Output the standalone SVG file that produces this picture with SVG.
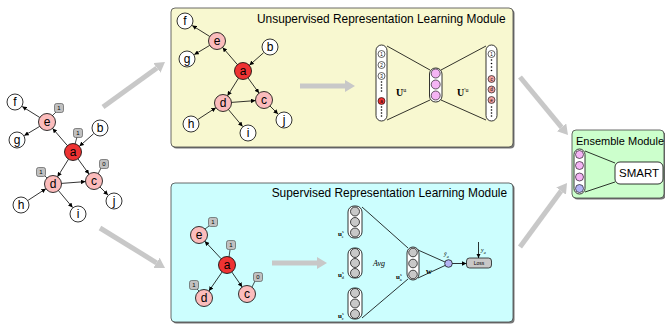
<svg xmlns="http://www.w3.org/2000/svg" width="665" height="326" viewBox="0 0 665 326">
<defs>
<marker id="ah" markerUnits="userSpaceOnUse" viewBox="0 0 6 6" refX="6" refY="3" markerWidth="4.5" markerHeight="4.5" orient="auto"><path d="M0,0 L6,3 L0,6 z" fill="#000"/></marker>
<marker id="big" markerUnits="userSpaceOnUse" viewBox="0 0 10 12" refX="0" refY="6" markerWidth="10" markerHeight="12" orient="auto"><path d="M0,0 L10,6 L0,12 z" fill="#c8c8c8"/></marker>
</defs>
<style>
text{font-family:"Liberation Sans",Arial,sans-serif;fill:#000}
.n circle{stroke:#000;stroke-width:0.8}
.nw{fill:#fff}.np{fill:#fbbcbc}.nr{fill:#ee3333}
.nl{font-size:12px;text-anchor:middle}
.e{stroke:#000;stroke-width:0.8;fill:none;marker-end:url(#ah)}
.lb rect{fill:#c0c0c0;stroke:#444;stroke-width:0.6}
.lb text{font-size:6px;text-anchor:middle}
.lk{stroke:#000;stroke-width:0.7}
.ga{stroke:#c8c8c8;stroke-width:5;fill:none;marker-end:url(#big)}
.shadow{fill:#777}
.title{font-size:11.9px}
.col{fill:#fff;stroke:#000;stroke-width:0.8}
.ln{stroke:#000;stroke-width:0.8;fill:none}
.sc{stroke:#000;stroke-width:0.6}
.tiny{font-size:4.5px;text-anchor:middle}
.gc{fill:#c8c8c8;stroke:#000;stroke-width:0.7}
.ser{font-family:"Liberation Serif","Times New Roman",serif}
.dot{fill:#000}
</style>

<!-- module boxes -->
<g id="unsup-module">
<rect class="shadow" x="172.5" y="9.5" width="342" height="139" rx="4"/>
<rect x="171" y="8" width="342" height="139" rx="4" fill="#f8f8d0" stroke="#444" stroke-width="0.8"/>
<text class="title" x="257" y="23">Unsupervised Representation Learning Module</text>
</g>
<g id="sup-module">
<rect class="shadow" x="172.5" y="184.5" width="342" height="139" rx="4"/>
<rect x="171" y="183" width="342" height="139" rx="4" fill="#ccfefe" stroke="#444" stroke-width="0.8"/>
<text class="title" x="507" y="197" text-anchor="end">Supervised Representation Learning Module</text>
</g>
<g id="ensemble-module">
<rect class="shadow" x="573.5" y="131.5" width="92" height="68" rx="4"/>
<rect x="572" y="130" width="92" height="68" rx="4" fill="#ccffcc" stroke="#444" stroke-width="0.8"/>
<text x="576" y="145" font-size="11">Ensemble Module</text>
</g>

<!-- big gray flow arrows -->
<g id="flow-arrows">
<line class="ga" x1="103" y1="107" x2="156.9" y2="67.9"/>
<line class="ga" x1="100" y1="228" x2="156.5" y2="262.8"/>
<line class="ga" x1="520" y1="77" x2="561.6" y2="127.3"/>
<line class="ga" x1="520" y1="247" x2="561.1" y2="191.1"/>
<line class="ga" x1="300" y1="86" x2="345" y2="86"/>
<line class="ga" x1="272" y1="263" x2="317" y2="263"/>
</g>

<!-- left graph -->
<g id="left-graph">
<g id="L-edges">
<line class="e" x1="39.8" y1="117.5" x2="22.2" y2="106.5"/>
<line class="e" x1="39.7" y1="126.4" x2="24.3" y2="135.6"/>
<line class="e" x1="67.4" y1="145.6" x2="52.6" y2="128.4"/>
<line class="e" x1="93.6" y1="133.7" x2="79.4" y2="146.3"/>
<line class="e" x1="68.5" y1="159.2" x2="57.5" y2="176.8"/>
<line class="e" x1="78" y1="158.9" x2="89" y2="174.1"/>
<line class="e" x1="61.5" y1="183.4" x2="85.5" y2="181.6"/>
<line class="e" x1="28.1" y1="200.3" x2="45.9" y2="188.7"/>
<line class="e" x1="58.4" y1="190.5" x2="72.6" y2="207.5"/>
<line class="e" x1="100" y1="187" x2="108" y2="195"/>
<line class="lk" x1="52" y1="116" x2="56" y2="112"/>
<line class="lk" x1="75" y1="144" x2="77" y2="137"/>
<line class="lk" x1="98" y1="174" x2="101" y2="168"/>
<line class="lk" x1="47" y1="178" x2="44" y2="175"/>
</g>
<g id="L-f" class="n"><circle class="nw" cx="15" cy="102" r="8"/><text class="nl" x="15" y="106">f</text></g>
<g id="L-e" class="n"><circle class="np" cx="47" cy="122" r="8.5"/><text class="nl" x="47" y="126">e</text></g>
<g id="L-g" class="n"><circle class="nw" cx="17" cy="140" r="8"/><text class="nl" x="17" y="144">g</text></g>
<g id="L-b" class="n"><circle class="nw" cx="100" cy="128" r="8"/><text class="nl" x="100" y="132">b</text></g>
<g id="L-a" class="n"><circle class="nr" cx="73" cy="152" r="8.5"/><text class="nl" x="73" y="156">a</text></g>
<g id="L-c" class="n"><circle class="np" cx="94" cy="181" r="8.5"/><text class="nl" x="94" y="185">c</text></g>
<g id="L-d" class="n"><circle class="np" cx="53" cy="184" r="8.5"/><text class="nl" x="53" y="188">d</text></g>
<g id="L-h" class="n"><circle class="nw" cx="21" cy="205" r="8"/><text class="nl" x="21" y="209">h</text></g>
<g id="L-i" class="n"><circle class="nw" cx="78" cy="214" r="8"/><text class="nl" x="78" y="218">i</text></g>
<g id="L-j" class="n"><circle class="nw" cx="114" cy="201" r="8"/><text class="nl" x="114" y="205">j</text></g>
<g id="L-lab-e" class="lb"><rect x="54.5" y="103.5" width="9" height="9" rx="2"/><text x="59" y="110">1</text></g>
<g id="L-lab-a" class="lb"><rect x="73.5" y="128.5" width="9" height="9" rx="2"/><text x="78" y="135">1</text></g>
<g id="L-lab-c" class="lb"><rect x="99.5" y="159.5" width="9" height="9" rx="2"/><text x="104" y="166">0</text></g>
<g id="L-lab-d" class="lb"><rect x="36.5" y="167.5" width="9" height="9" rx="2"/><text x="41" y="174">1</text></g>
</g>

<!-- top module graph -->
<g id="top-graph" transform="translate(170,-81)">
<g id="T-edges">
<line class="e" x1="39.8" y1="117.5" x2="22.2" y2="106.5"/>
<line class="e" x1="39.7" y1="126.4" x2="24.3" y2="135.6"/>
<line class="e" x1="67.4" y1="145.6" x2="52.6" y2="128.4"/>
<line class="e" x1="93.6" y1="133.7" x2="79.4" y2="146.3"/>
<line class="e" x1="68.5" y1="159.2" x2="57.5" y2="176.8"/>
<line class="e" x1="78" y1="158.9" x2="89" y2="174.1"/>
<line class="e" x1="61.5" y1="183.4" x2="85.5" y2="181.6"/>
<line class="e" x1="28.1" y1="200.3" x2="45.9" y2="188.7"/>
<line class="e" x1="58.4" y1="190.5" x2="72.6" y2="207.5"/>
<line class="e" x1="100" y1="187" x2="108" y2="195"/>
</g>
<g id="T-f" class="n"><circle class="nw" cx="15" cy="102" r="8"/><text class="nl" x="15" y="106">f</text></g>
<g id="T-e" class="n"><circle class="np" cx="47" cy="122" r="8.5"/><text class="nl" x="47" y="126">e</text></g>
<g id="T-g" class="n"><circle class="nw" cx="17" cy="140" r="8"/><text class="nl" x="17" y="144">g</text></g>
<g id="T-b" class="n"><circle class="nw" cx="100" cy="128" r="8"/><text class="nl" x="100" y="132">b</text></g>
<g id="T-a" class="n"><circle class="nr" cx="73" cy="152" r="8.5"/><text class="nl" x="73" y="156">a</text></g>
<g id="T-c" class="n"><circle class="np" cx="94" cy="181" r="8.5"/><text class="nl" x="94" y="185">c</text></g>
<g id="T-d" class="n"><circle class="np" cx="53" cy="184" r="8.5"/><text class="nl" x="53" y="188">d</text></g>
<g id="T-h" class="n"><circle class="nw" cx="21" cy="205" r="8"/><text class="nl" x="21" y="209">h</text></g>
<g id="T-i" class="n"><circle class="nw" cx="78" cy="214" r="8"/><text class="nl" x="78" y="218">i</text></g>
<g id="T-j" class="n"><circle class="nw" cx="114" cy="201" r="8"/><text class="nl" x="114" y="205">j</text></g>
</g>

<!-- autoencoder -->
<g id="autoencoder">
<line class="ln" x1="387" y1="46" x2="430" y2="70"/>
<line class="ln" x1="387" y1="120" x2="430" y2="100"/>
<line class="ln" x1="441" y1="70" x2="486" y2="46"/>
<line class="ln" x1="441" y1="100" x2="486" y2="120"/>
<g id="ae-input">
<rect class="col" x="376" y="45" width="11" height="76" rx="5.5"/>
<circle class="sc" cx="381.5" cy="54" r="3.5" fill="#fff"/><text class="tiny" x="381.5" y="55.6">1</text>
<circle class="sc" cx="381.5" cy="65" r="3.5" fill="#fff"/><text class="tiny" x="381.5" y="66.6">2</text>
<circle class="sc" cx="381.5" cy="76" r="3.5" fill="#fff"/><text class="tiny" x="381.5" y="77.6">3</text>
<circle class="dot" cx="381.5" cy="82" r="0.8"/><circle class="dot" cx="381.5" cy="85" r="0.8"/><circle class="dot" cx="381.5" cy="88" r="0.8"/><circle class="dot" cx="381.5" cy="91" r="0.8"/>
<circle class="sc" cx="381.5" cy="101" r="3.5" fill="#ee3333"/><text class="tiny" x="381.5" y="102.6">a</text>
<circle class="dot" cx="381.5" cy="107" r="0.8"/><circle class="dot" cx="381.5" cy="110" r="0.8"/><circle class="dot" cx="381.5" cy="113" r="0.8"/><circle class="dot" cx="381.5" cy="116" r="0.8"/>
</g>
<g id="ae-code">
<rect class="col" x="429.5" y="68" width="12.5" height="34" rx="6"/>
<circle class="sc" cx="435.7" cy="73.5" r="4.5" fill="#f4b4f4"/>
<circle class="sc" cx="435.7" cy="84.5" r="4.5" fill="#f4b4f4"/>
<circle class="sc" cx="435.7" cy="95.5" r="4.5" fill="#f4b4f4"/>
</g>
<g id="ae-output">
<rect class="col" x="486" y="45" width="11" height="76" rx="5.5"/>
<circle class="sc" cx="491.5" cy="54" r="3.5" fill="#fff"/><text class="tiny" x="491.5" y="55.6">1</text>
<circle class="dot" cx="491.5" cy="60" r="0.8"/><circle class="dot" cx="491.5" cy="63.5" r="0.8"/><circle class="dot" cx="491.5" cy="67" r="0.8"/><circle class="dot" cx="491.5" cy="70.5" r="0.8"/>
<circle class="sc" cx="491.5" cy="79" r="3.5" fill="#f0a0a0"/><text class="tiny" x="491.5" y="80.6">c</text>
<circle class="sc" cx="491.5" cy="89.5" r="3.5" fill="#f0a0a0"/><text class="tiny" x="491.5" y="91.1">d</text>
<circle class="sc" cx="491.5" cy="100" r="3.5" fill="#f0a0a0"/><text class="tiny" x="491.5" y="101.6">e</text>
<circle class="dot" cx="491.5" cy="107" r="0.8"/><circle class="dot" cx="491.5" cy="110" r="0.8"/><circle class="dot" cx="491.5" cy="113" r="0.8"/><circle class="dot" cx="491.5" cy="116" r="0.8"/>
</g>
<text class="ser" x="396" y="96" font-size="10" font-weight="bold">U<tspan font-size="6" font-weight="normal" dy="-4">u</tspan></text>
<text class="ser" x="457" y="96" font-size="10" font-weight="bold">U<tspan font-size="6" font-weight="normal" dy="-4">′u</tspan></text>
</g>

<!-- bottom module graph -->
<g id="bottom-graph">
<g id="B-edges">
<line class="e" x1="221.2" y1="258.8" x2="204.8" y2="241.2"/>
<line class="e" x1="222.1" y1="272" x2="208.9" y2="291"/>
<line class="e" x1="231.8" y1="272" x2="242.2" y2="287"/>
<line class="lk" x1="205" y1="229" x2="209" y2="226"/>
<line class="lk" x1="229" y1="257" x2="230" y2="250"/>
<line class="lk" x1="199" y1="291" x2="197" y2="289"/>
<line class="lk" x1="252" y1="287" x2="255" y2="281"/>
</g>
<g id="B-e" class="n"><circle class="np" cx="199" cy="235" r="8.5"/><text class="nl" x="199" y="239">e</text></g>
<g id="B-a" class="n"><circle class="nr" cx="227" cy="265" r="8.5"/><text class="nl" x="227" y="269">a</text></g>
<g id="B-d" class="n"><circle class="np" cx="204" cy="298" r="8.5"/><text class="nl" x="204" y="302">d</text></g>
<g id="B-c" class="n"><circle class="np" cx="247" cy="294" r="8.5"/><text class="nl" x="247" y="298">c</text></g>
<g id="B-lab-e" class="lb"><rect x="208.5" y="217.5" width="9" height="9" rx="2"/><text x="213" y="224">1</text></g>
<g id="B-lab-a" class="lb"><rect x="226.5" y="240.5" width="9" height="9" rx="2"/><text x="231" y="247">1</text></g>
<g id="B-lab-d" class="lb"><rect x="189.5" y="280.5" width="9" height="9" rx="2"/><text x="194" y="287">1</text></g>
<g id="B-lab-c" class="lb"><rect x="253.5" y="272.5" width="9" height="9" rx="2"/><text x="258" y="279">0</text></g>
</g>

<!-- supervised network -->
<g id="supervised-net">
<line class="ln" x1="362" y1="207" x2="408" y2="248"/>
<line class="ln" x1="362" y1="318" x2="408" y2="279"/>
<line class="ln" x1="418" y1="250" x2="445" y2="262"/>
<line class="ln" x1="418" y1="278" x2="445" y2="265.5"/>
<g id="u-e">
<rect class="col" x="348" y="206" width="14" height="32" rx="6"/>
<circle class="gc" cx="355" cy="211.5" r="4.5"/><circle class="gc" cx="355" cy="222" r="4.5"/><circle class="gc" cx="355" cy="232.5" r="4.5"/>
<text class="ser" x="338" y="236" font-size="7" font-weight="bold">u<tspan font-size="4.5" font-weight="normal" dy="-3">s</tspan><tspan font-size="4.5" font-weight="normal" dx="-2" dy="4.5">e</tspan></text>
</g>
<g id="u-d">
<rect class="col" x="348" y="248" width="14" height="30" rx="6"/>
<circle class="gc" cx="355" cy="253" r="4.5"/><circle class="gc" cx="355" cy="263" r="4.5"/><circle class="gc" cx="355" cy="273" r="4.5"/>
<text class="ser" x="338" y="277" font-size="7" font-weight="bold">u<tspan font-size="4.5" font-weight="normal" dy="-3">s</tspan><tspan font-size="4.5" font-weight="normal" dx="-2" dy="4.5">d</tspan></text>
</g>
<g id="u-c">
<rect class="col" x="348" y="288" width="14" height="31" rx="6"/>
<circle class="gc" cx="355" cy="293" r="4.5"/><circle class="gc" cx="355" cy="303.5" r="4.5"/><circle class="gc" cx="355" cy="314" r="4.5"/>
<text class="ser" x="338" y="318" font-size="7" font-weight="bold">u<tspan font-size="4.5" font-weight="normal" dy="-3">s</tspan><tspan font-size="4.5" font-weight="normal" dx="-2" dy="4.5">c</tspan></text>
</g>
<text class="ser" x="373" y="266" font-size="8" font-style="italic">Avg</text>
<g id="u-a">
<rect class="col" x="407" y="247" width="12" height="33" rx="6"/>
<circle class="gc" cx="413" cy="252.5" r="4.3"/><circle class="gc" cx="413" cy="263.5" r="4.3"/><circle class="gc" cx="413" cy="274.5" r="4.3"/>
<text class="ser" x="396" y="279" font-size="7" font-weight="bold">u<tspan font-size="4.5" font-weight="normal" dy="-3">s</tspan><tspan font-size="4.5" font-weight="normal" dx="-2" dy="4.5">a</tspan></text>
</g>
<text class="ser" x="426" y="274" font-size="8" font-weight="bold">w</text>
<g id="y-hat">
<circle cx="448.5" cy="263.5" r="3.8" fill="#b4b4f4" stroke="#000" stroke-width="0.7"/>
<text class="ser" x="444" y="256" font-size="6" font-style="italic">ŷ<tspan font-size="4" dy="1.5">a</tspan></text>
</g>
<line class="e" x1="452.3" y1="263.5" x2="466.5" y2="263.5"/>
<line class="e" x1="478.5" y1="242" x2="478.5" y2="258"/>
<text class="ser" x="481" y="252" font-size="6" font-style="italic">y<tspan font-size="4" dy="1.5">a</tspan></text>
<g id="loss">
<rect x="466.5" y="258" width="25" height="10" rx="3" fill="#c8c8c8" stroke="#000" stroke-width="0.7"/>
<text x="479" y="265" font-size="5" text-anchor="middle">Loss</text>
</g>
</g>

<!-- ensemble contents -->
<g id="ensemble-net">
<line class="ln" x1="585" y1="151" x2="615" y2="163"/>
<line class="ln" x1="585" y1="192" x2="615" y2="182"/>
<g id="ens-col">
<rect class="col" x="574" y="149" width="11" height="45" rx="5.5"/>
<circle class="sc" cx="579.5" cy="154.5" r="4" fill="#f4b4f4"/>
<circle class="sc" cx="579.5" cy="165.5" r="4" fill="#f4b4f4"/>
<circle class="sc" cx="579.5" cy="177" r="4" fill="#f4b4f4"/>
<circle class="sc" cx="579.5" cy="188.5" r="4" fill="#b4b4f4"/>
</g>
<g id="smart">
<rect x="615" y="162" width="48" height="22" rx="5" fill="#fff" stroke="#000" stroke-width="0.8"/>
<text x="639" y="177" font-size="11.5" text-anchor="middle">SMART</text>
</g>
</g>
</svg>
